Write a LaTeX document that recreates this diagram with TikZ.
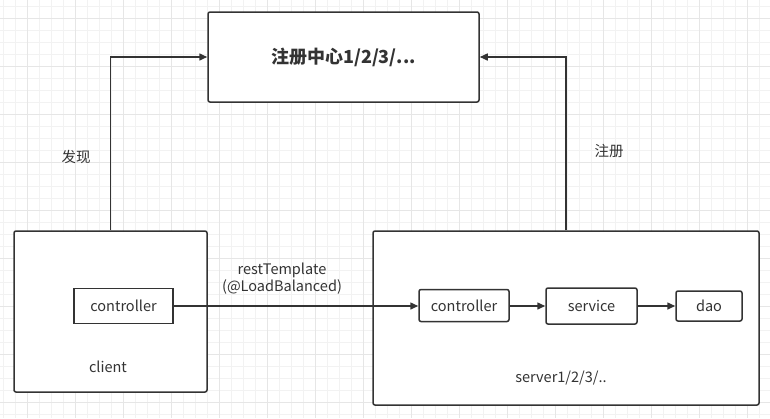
\documentclass[tikz,border=0pt]{standalone}
\usepackage{fontspec}
\setmainfont{Noto Sans CJK SC}
\usepackage{tikz}
\usetikzlibrary{arrows.meta}

\definecolor{ink}{HTML}{333333}
\definecolor{gridlo}{HTML}{F2F2F2}
\definecolor{gridhi}{HTML}{E6E6E6}

\tikzset{
    box/.style={draw=ink, line width=1.5pt, rounded corners=2pt, fill=white, inner sep=0pt},
    part/.style={box, font=\fontsize{14.5}{17}\selectfont, text=ink},
    lbl/.style={font=\fontsize{14.5}{17}\selectfont, text=ink, inner sep=0pt},
    link/.style={draw=ink, line width=1.5pt, -{Triangle[length=8pt,width=7pt]}}
}

\begin{document}
\begin{tikzpicture}[x=1pt,y=-1pt]
    \useasboundingbox[fill=white] (0,0) rectangle (770,418);
    % background grid
    \foreach \gx in {3,15,...,770} \draw[gridlo, line width=.8pt] (\gx,0) -- (\gx,418);
    \foreach \gy in {6,18,...,418} \draw[gridlo, line width=.8pt] (0,\gy) -- (770,\gy);
    \foreach \gx in {27,75,...,770} \draw[gridhi, line width=.8pt] (\gx,0) -- (\gx,418);
    \foreach \gy in {18,66,...,418} \draw[gridhi, line width=.8pt] (0,\gy) -- (770,\gy);

    \node[box, minimum width=271pt, minimum height=90pt, font=\fontsize{18}{20}\selectfont\bfseries, text=ink] (registry) at (343.5,57) {注册中心1/2/3/...};

    \node[box, minimum width=193pt, minimum height=161pt] (client) at (110.5,311.5) {};
    \node[box, minimum width=386pt, minimum height=174pt] (server) at (566,318) {};

    \node[part, rounded corners=0pt, minimum width=99pt, minimum height=35pt] (cctrl) at (123.5,306) {controller};
    \node[lbl] (clientname) at (108,367) {client};

    \node[part, minimum width=90pt, minimum height=32pt] (sctrl) at (464,305.5) {controller};
    \node[part, minimum width=91pt, minimum height=36pt] (service) at (591.5,306) {service};
    \node[part, minimum width=66pt, minimum height=30pt] (dao) at (709,306) {dao};
    \node[lbl] (servername) at (561,378) {server1/2/3/..};

    \node[lbl] (find) at (76,157) {发现};
    \node[lbl] (reg) at (609,151) {注册};
    \node[lbl, align=center] (rest) at (282,279) {restTemplate\\(@LoadBalanced)};

    \draw[link] (client.north) |- (registry.west);
    \draw[link] (server.north) |- (registry.east);
    \draw[link] (cctrl.east) -- (cctrl.east -| sctrl.west);
    \draw[link] (service.west -| sctrl.east) -- (service.west);
    \draw[link] (service.east) -- (service.east -| dao.west);
\end{tikzpicture}
\end{document}
